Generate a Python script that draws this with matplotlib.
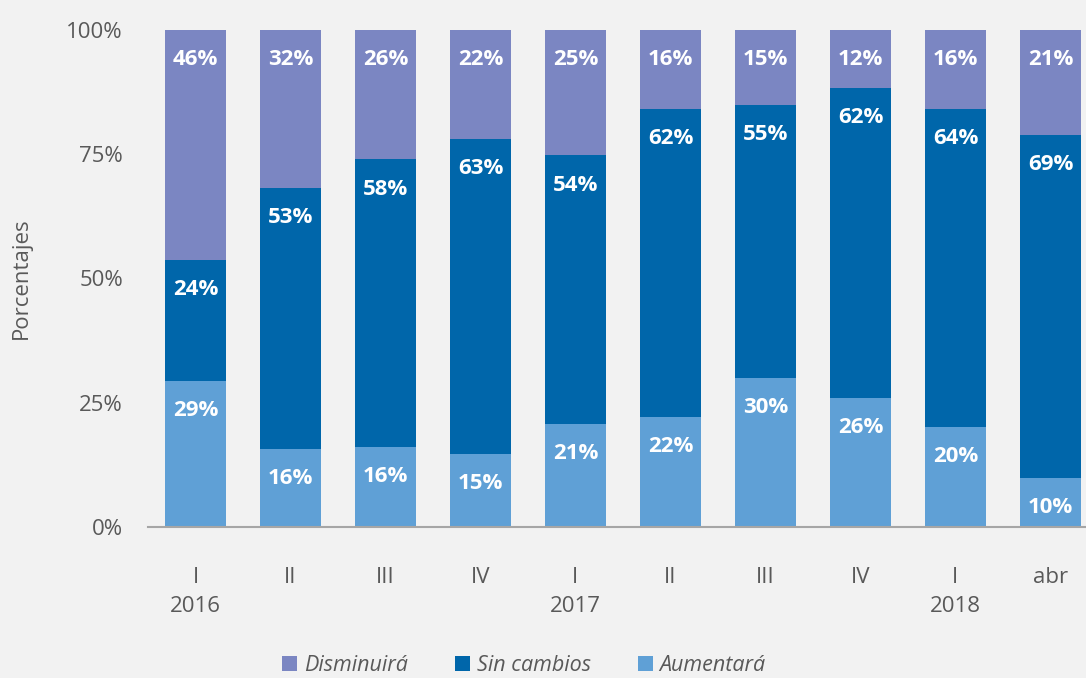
import matplotlib
matplotlib.use("Agg")
import matplotlib.pyplot as plt
import numpy as np

quarters = ["I", "II", "III", "IV", "I", "II", "III", "IV", "I", "abr"]
years = ["2016", "", "", "", "2017", "", "", "", "2018", ""]
aumentara = [29.4, 15.7, 16.1, 14.7, 20.7, 22.1, 30.0, 26.0, 20.1, 9.9]
sin_cambios = [24.3, 52.6, 57.9, 63.4, 54.1, 62.0, 54.9, 62.3, 64.0, 69.0]
disminuira = [46.3, 31.7, 26.0, 21.9, 25.2, 15.9, 15.1, 11.7, 15.9, 21.1]

c_aum = "#5FA0D6"
c_sin = "#0066AA"
c_dis = "#7B86C2"
bg = "#F2F2F2"
gray = "#595959"

plt.rcParams["font.family"] = ["Open Sans", "DejaVu Sans"]

fig = plt.figure(figsize=(10.86, 6.78), dpi=100, facecolor=bg)
ax = fig.add_axes([0.1363, 0.2227, 0.8637, 0.7331], facecolor=bg)

x = np.arange(len(quarters))
w = 0.64
a = np.array(aumentara)
s = np.array(sin_cambios)
d = np.array(disminuira)

ax.bar(x, a, w, color=c_aum, label="Aumentará", zorder=2)
ax.bar(x, s, w, bottom=a, color=c_sin, label="Sin cambios", zorder=2)
ax.bar(x, d, w, bottom=a + s, color=c_dis, label="Disminuirá", zorder=2)

off = 6.0
for i in range(len(x)):
    for val, top in ((a[i], a[i]), (s[i], a[i] + s[i]), (d[i], a[i] + s[i] + d[i])):
        ax.text(x[i], min(top, 100) - off, f"{int(round(val))}%", ha="center", va="center",
                color="white", fontsize=16, fontweight="bold", zorder=3)

ax.set_xlim(-0.5, 9.374)
ax.set_ylim(0, 100)
ax.set_yticks([0, 25, 50, 75, 100])
ax.set_yticklabels(["0%", "25%", "50%", "75%", "100%"])
ax.set_xticks(x)
ax.set_xticklabels([q + "\n" + y for q, y in zip(quarters, years)], linespacing=1.5)
ax.tick_params(axis="both", length=0, colors=gray, labelsize=16)
ax.tick_params(axis="y", pad=18)
ax.tick_params(axis="x", pad=29)

for sp in ["top", "right", "left"]:
    ax.spines[sp].set_visible(False)
ax.spines["bottom"].set_color("#A6A6A6")
ax.spines["bottom"].set_linewidth(1.5)
ax.spines["bottom"].set_zorder(4)

ax.set_ylabel("Porcentajes", color=gray, fontsize=16)
ax.yaxis.set_label_coords(-0.124, 0.5)

handles, labels = ax.get_legend_handles_labels()
leg = fig.legend(handles[::-1], labels[::-1], loc="center", bbox_to_anchor=(0.4825, 0.018),
                 ncol=3, frameon=False, handlelength=0.7, handleheight=0.7,
                 columnspacing=2.2, handletextpad=0.3,
                 prop={"style": "italic", "size": 15.5})
for t in leg.get_texts():
    t.set_color(gray)

fig.savefig("out.png", dpi=100, facecolor=bg)
